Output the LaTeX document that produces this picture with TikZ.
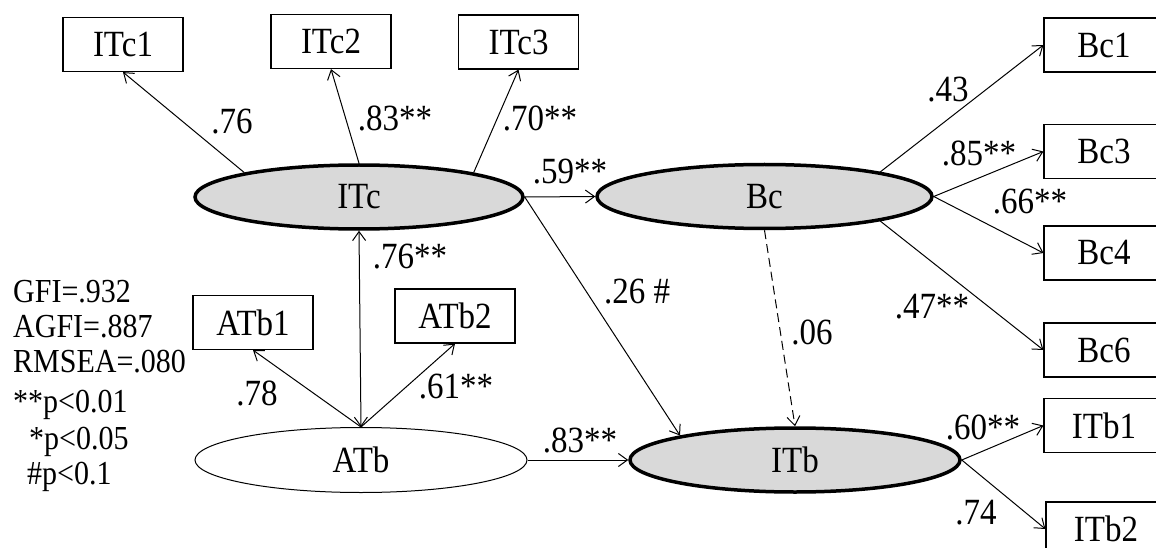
\documentclass[tikz,border=0pt]{standalone}
\usepackage{fontspec}
\usepackage{graphicx}
\setmainfont{Liberation Serif}
\usetikzlibrary{shapes.geometric,arrows.meta}
\definecolor{latfill}{HTML}{D9D9D9}
\newcommand{\vst}[1]{\scalebox{1}[1.12]{#1}}
\begin{document}
\begin{tikzpicture}[x=1pt,y=-1pt,
  every node/.style={font=\fontsize{33}{38}\selectfont},
  obs/.style={draw, line width=1.2pt, minimum width=120pt, minimum height=54pt, inner sep=0pt},
  latent/.style={ellipse, draw, line width=3.5pt, fill=latfill, inner sep=0pt, minimum height=64pt},
  exo/.style={ellipse, draw, line width=1pt, fill=white, inner sep=0pt, minimum height=65pt},
  conn/.style={line width=1pt, -{Straight Barb[length=9pt,width=13pt]}},
  biconn/.style={line width=1pt, {Straight Barb[length=9pt,width=13pt]}-{Straight Barb[length=9pt,width=13pt]}},
  lbl/.style={inner sep=0pt},
  legend/.style={font=\fontsize{30}{34}\selectfont, anchor=west, inner sep=0pt}]
\useasboundingbox (0,0) rectangle (1156,548);
\clip (0,0) rectangle (1156,548);
\fill[white] (0,0) rectangle (1156,548);

% latent variables
\node[latent, minimum width=328pt] (ITc) at (359,197) {\vst{ITc}};
\node[latent, minimum width=335pt] (Bc) at (764.5,196.5) {\vst{Bc}};
\node[exo, minimum width=332pt] (ATb) at (361,460) {\vst{ATb}};
\node[latent, minimum width=330pt] (ITb) at (795,460) {\vst{ITb}};

% observed variables
\node[obs] (ITc1) at (123,44.5) {\vst{ITc1}};
\node[obs] (ITc2) at (331,41.5) {\vst{ITc2}};
\node[obs] (ITc3) at (518.5,42) {\vst{ITc3}};
\node[obs] (Bc1) at (1104,45) {\vst{Bc1}};
\node[obs] (Bc3) at (1104,151.5) {\vst{Bc3}};
\node[obs] (Bc4) at (1104,253) {\vst{Bc4}};
\node[obs] (Bc6) at (1104,350) {\vst{Bc6}};
\node[obs] (ITb1) at (1104,425.5) {\vst{ITb1}};
\node[obs] (ITb2) at (1106,529) {\vst{ITb2}};
\node[obs] (ATb1) at (253,322.5) {\vst{ATb1}};
\node[obs] (ATb2) at (455,316) {\vst{ATb2}};

% connectors
\draw[conn] (ITc.168) -- (ITc1.south);
\draw[conn] (ITc.north) -- (ITc2.south);
\draw[conn] (ITc.12) -- (ITc3.south);
\draw[conn] (ITc.east) -- (Bc.west);
\draw[conn] (ITc.east) -- (ITb.168);
\draw[biconn] (ITc.south) -- (ATb.north);
\draw[conn] (ATb.north) -- (ATb1.south);
\draw[conn] (ATb.north) -- (ATb2.south);
\draw[conn] (ATb.east) -- (ITb.west);
\draw[conn] (Bc.12) -- (Bc1.west);
\draw[conn] (Bc.east) -- (Bc3.west);
\draw[conn] (Bc.east) -- (Bc4.west);
\draw[conn] (Bc.-12) -- (Bc6.west);
\draw[conn, dash pattern=on 9pt off 5pt] (Bc.south) -- (ITb.north);
\draw[conn] (ITb.east) -- (ITb1.west);
\draw[conn] (ITb.east) -- (ITb2.west);

% coefficient labels
\node[lbl] (l1) at (232,122) {\vst{.76}};
\node[lbl] (l2) at (395,118) {\vst{.83**}};
\node[lbl] (l3) at (540,118) {\vst{.70**}};
\node[lbl] (l4) at (570,172) {\vst{.59**}};
\node[lbl] (l5) at (410,257) {\vst{.76**}};
\node[lbl] (l6) at (948,90) {\vst{.43}};
\node[lbl] (l7) at (979,153) {\vst{.85**}};
\node[lbl] (l8) at (1030,202) {\vst{.66**}};
\node[lbl] (l9) at (932,307) {\vst{.47**}};
\node[lbl] (l10) at (637,292) {\vst{.26 \#}};
\node[lbl] (l11) at (812,332) {\vst{.06}};
\node[lbl] (l12) at (580,440) {\vst{.83**}};
\node[lbl] (l13) at (983,427) {\vst{.60**}};
\node[lbl] (l14) at (976,513) {\vst{.74}};
\node[lbl] (l15) at (257,393) {\vst{.78}};
\node[lbl] (l16) at (456,387) {\vst{.61**}};

% legend
\node[legend] (g1) at (13,292) {\vst{GFI=.932}};
\node[legend] (g2) at (13,327) {\vst{AGFI=.887}};
\node[legend] (g3) at (13,362) {\vst{RMSEA=.080}};
\node[legend] (g4) at (13,405) {\vst{**p<0.01}};
\node[legend] (g5) at (29,442) {\vst{*p<0.05}};
\node[legend] (g6) at (27,477) {\vst{\#p<0.1}};
\end{tikzpicture}
\end{document}
